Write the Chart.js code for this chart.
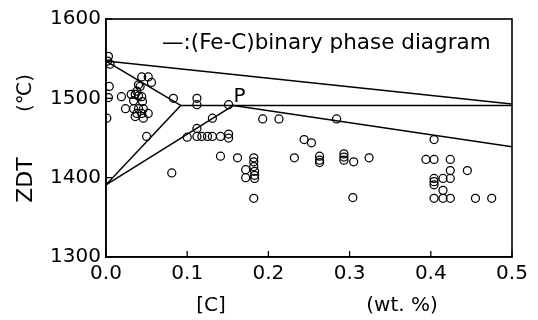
<!DOCTYPE html>
<html><head><meta charset="utf-8">
<script src="https://cdn.jsdelivr.net/npm/chart.js@4/dist/chart.umd.min.js"></script>
<style>html,body{margin:0;padding:0;background:#fff}canvas{display:block}</style>
</head><body>
<canvas id="c" width="538" height="320"></canvas>
<script>
// ---- data ----
const xTickLabels = ['0.0', '0.1', '0.2', '0.3', '0.4', '0.5'];
const yTickLabels = ['1300', '1400', '1500', '1600'];
const xTitleMain = '[C]';
const xTitleUnit = '(wt. %)';
const yTitleMain = 'ZDT';
const yTitleUnit = '(℃)';
const legendText = '—:(Fe-C)binary phase diagram';
const pointLabel = 'P';

// measured points: carbon (wt.%) and ZDT (°C)
const carbon = [
  0.003, 0.002, 0.005, 0.004, 0.003, 0.001,
  0.019, 0.031, 0.036, 0.040, 0.044, 0.038, 0.042, 0.040, 0.044, 0.052, 0.056,
  0.024, 0.034, 0.040, 0.046, 0.038, 0.044, 0.052, 0.036, 0.046, 0.050, 0.034, 0.045,
  0.083, 0.081, 0.100, 0.112, 0.112, 0.151, 0.131, 0.112, 0.112, 0.118, 0.125, 0.131, 0.141, 0.151, 0.151,
  0.193, 0.213, 0.141, 0.162, 0.182, 0.182, 0.182, 0.172, 0.172, 0.183, 0.183, 0.183, 0.182,
  0.232, 0.244, 0.253, 0.263, 0.263, 0.263, 0.284, 0.293, 0.293, 0.293, 0.305, 0.324, 0.304,
  0.404, 0.394, 0.404, 0.424, 0.424, 0.445, 0.404, 0.415, 0.424, 0.404, 0.404, 0.415,
  0.404, 0.415, 0.424, 0.455, 0.475
];
const zdt = [
  1553, 1547, 1543, 1515, 1501, 1475,
  1502, 1505, 1505, 1503, 1502, 1509, 1515, 1517, 1527, 1527, 1520,
  1487, 1487, 1487, 1487, 1481, 1481, 1481, 1477, 1475, 1452, 1497, 1496,
  1500, 1406, 1451, 1500, 1492, 1492, 1475, 1462, 1452, 1452, 1452, 1452, 1452, 1455, 1450,
  1474, 1474, 1427, 1425, 1425, 1420, 1414, 1410, 1400, 1408, 1403, 1399, 1374,
  1425, 1448, 1444, 1427, 1422, 1419, 1474, 1430, 1426, 1422, 1420, 1425, 1375,
  1448, 1423, 1423, 1423, 1409, 1409, 1399, 1399, 1399, 1395, 1391, 1384,
  1374, 1374, 1374, 1374, 1374
];

// Fe-C binary phase diagram lines
const liquidusC = [0, 0.5];        const liquidusT = [1547, 1493];
const deltaSolidusC = [0, 0.092];  const deltaSolidusT = [1547, 1491];
const peritecticC = [0.092, 0.5];  const peritecticT = [1491, 1491];
const deltaGammaLC = [0, 0.092];   const deltaGammaLT = [1391, 1491];
const deltaGammaRC = [0, 0.157];   const deltaGammaRT = [1391, 1491];
const gammaSolidusC = [0.157, 0.5]; const gammaSolidusT = [1491, 1439];
const pPoint = [0.157, 1491];

// ---- build ----
const FONT = 'DejaVu Sans';
function seg(cs, ts) { return cs.map((c, i) => ({ x: c, y: ts[i] })); }
function lineDs(cs, ts) {
  return { type: 'line', data: seg(cs, ts), borderColor: '#000', borderWidth: 1.5,
           pointRadius: 0, fill: false, tension: 0, order: 2 };
}

const extras = {
  id: 'extras',
  afterDraw(chart) {
    const ctx = chart.ctx, a = chart.chartArea;
    const xs = chart.scales.x, ys = chart.scales.y;
    ctx.save();
    // frame
    ctx.strokeStyle = '#000'; ctx.lineWidth = 1.6;
    ctx.strokeRect(a.left, a.top, a.right - a.left, a.bottom - a.top);
    // inward ticks
    ctx.lineWidth = 1.3;
    xs.ticks.forEach(t => {
      const px = xs.getPixelForValue(t.value);
      ctx.beginPath(); ctx.moveTo(px, a.bottom); ctx.lineTo(px, a.bottom - 6); ctx.stroke();
    });
    ys.ticks.forEach(t => {
      const py = ys.getPixelForValue(t.value);
      ctx.beginPath(); ctx.moveTo(a.left, py); ctx.lineTo(a.left + 6, py); ctx.stroke();
    });
    ctx.fillStyle = '#000';
    // legend text
    ctx.font = '21.5px "' + FONT + '"';
    ctx.textAlign = 'left'; ctx.textBaseline = 'middle';
    ctx.fillText(legendText, 162, 43);
    // P label
    ctx.font = '20px "' + FONT + '"';
    ctx.textAlign = 'center';
    ctx.fillText(pointLabel, xs.getPixelForValue(pPoint[0]) + 6, ys.getPixelForValue(pPoint[1]) - 9);
    // x title
    ctx.font = '20px "' + FONT + '"';
    ctx.fillText(xTitleMain, 211, 306);
    ctx.fillText(xTitleUnit, 402, 306);
    // y title
    ctx.translate(26, 0);
    ctx.rotate(-Math.PI / 2);
    ctx.font = '22px "' + FONT + '"';
    ctx.fillText(yTitleMain, -180, 0);
    ctx.font = '20px "' + FONT + '"';
    ctx.fillText(yTitleUnit, -93, 0);
    ctx.restore();
  }
};

new Chart(document.getElementById('c'), {
  type: 'scatter',
  data: {
    datasets: [
      { type: 'scatter', data: seg(carbon, zdt), pointStyle: 'circle', pointRadius: 4,
        pointBorderWidth: 1.25, pointBorderColor: '#000', pointBackgroundColor: 'rgba(0,0,0,0)',
        borderColor: '#000', backgroundColor: 'rgba(0,0,0,0)', order: 1 },
      lineDs(liquidusC, liquidusT),
      lineDs(deltaSolidusC, deltaSolidusT),
      lineDs(peritecticC, peritecticT),
      lineDs(deltaGammaLC, deltaGammaLT),
      lineDs(deltaGammaRC, deltaGammaRT),
      lineDs(gammaSolidusC, gammaSolidusT)
    ]
  },
  options: {
    responsive: false, animation: false, devicePixelRatio: 1,
    layout: { padding: { top: 19, right: 26, left: 0, bottom: 0 } },
    plugins: { legend: { display: false }, tooltip: { enabled: false } },
    scales: {
      x: {
        type: 'linear', min: 0, max: 0.5,
        afterFit: s => { s.height = 63; },
        grid: { display: false, drawTicks: false },
        border: { display: true, color: '#000', width: 1.6 },
        ticks: { stepSize: 0.1, padding: 5, color: '#000', maxRotation: 0,
                 font: { family: FONT, size: 20 },
                 callback: (v, i) => xTickLabels[i] }
      },
      y: {
        type: 'linear', min: 1300, max: 1600,
        afterFit: s => { s.width = 106; },
        grid: { display: false, drawTicks: false },
        border: { display: true, color: '#000', width: 1.6 },
        ticks: { stepSize: 100, padding: 5, color: '#000',
                 font: { family: FONT, size: 20 },
                 callback: (v, i) => yTickLabels[i] }
      }
    }
  },
  plugins: [extras]
});
</script>
</body></html>
